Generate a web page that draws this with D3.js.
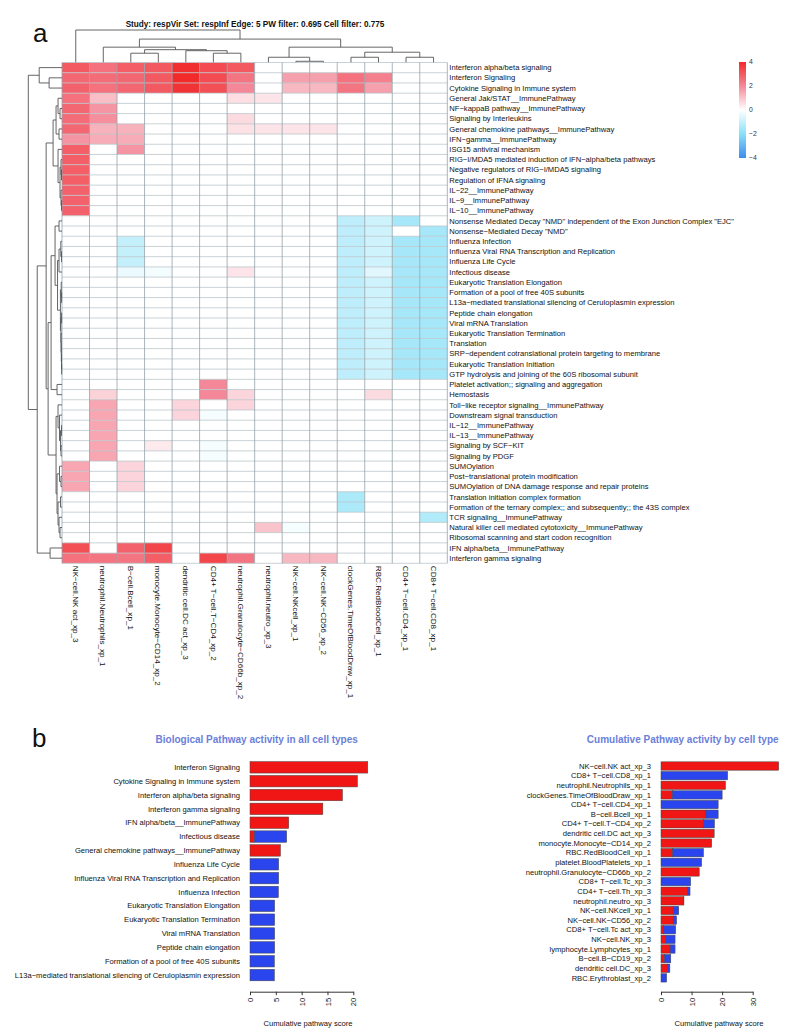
<!DOCTYPE html>
<html><head><meta charset="utf-8">
<script src="https://cdn.jsdelivr.net/npm/d3@7"></script>
<style>
body{margin:0;background:#fff;}
svg{display:block;font-family:"Liberation Sans",Arial,Helvetica,sans-serif;}
</style></head><body>
<svg id="chart" width="797" height="1036"></svg>
<script>
// ---------------- DATA ----------------
const chartTitle = "Study: respVir Set: respInf Edge: 5 PW filter: 0.695 Cell filter: 0.775";
const rowLabels = [
"Interferon alpha/beta signaling","Interferon Signaling","Cytokine Signaling in Immune system",
"General Jak/STAT__ImmunePathway","NF\u2212kappaB pathway__ImmunePathway","Signaling by Interleukins",
"General chemokine pathways__ImmunePathway","IFN\u2212gamma__ImmunePathway","ISG15 antiviral mechanism",
"RIG\u2212I/MDA5 mediated induction of IFN\u2212alpha/beta pathways","Negative regulators of RIG\u2212I/MDA5 signaling",
"Regulation of IFNA signaling","IL\u221222__ImmunePathway","IL\u22129__ImmunePathway","IL\u221210__ImmunePathway",
"Nonsense Mediated Decay \"NMD\" independent of the Exon Junction Complex \"EJC\"","Nonsense\u2212Mediated Decay \"NMD\"",
"Influenza Infection","Influenza Viral RNA Transcription and Replication","Influenza Life Cycle","Infectious disease",
"Eukaryotic Translation Elongation","Formation of a pool of free 40S subunits",
"L13a\u2212mediated translational silencing of Ceruloplasmin expression","Peptide chain elongation",
"Viral mRNA Translation","Eukaryotic Translation Termination","Translation",
"SRP\u2212dependent cotranslational protein targeting to membrane","Eukaryotic Translation Initiation",
"GTP hydrolysis and joining of the 60S ribosomal subunit","Platelet activation;; signaling and aggregation",
"Hemostasis","Toll\u2212like receptor signaling__ImmunePathway","Downstream signal transduction",
"IL\u221212__ImmunePathway","IL\u221213__ImmunePathway","Signaling by SCF\u2212KIT","Signaling by PDGF",
"SUMOylation","Post\u2212translational protein modification","SUMOylation of DNA damage response and repair proteins",
"Translation initiation complex formation","Formation of the ternary complex;; and subsequently;; the 43S complex",
"TCR signaling__ImmunePathway","Natural killer cell mediated cytotoxicity__ImmunePathway",
"Ribosomal scanning and start codon recognition","IFN alpha/beta__ImmunePathway","Interferon gamma signaling"];
const colLabels = [
"NK\u2212cell.NK act_xp_3","neutrophil.Neutrophils_xp_1","B\u2212cell.Bcell_xp_1","monocyte.Monocyte\u2212CD14_xp_2",
"dendritic cell.DC act_xp_3","CD4+ T\u2212cell.T\u2212CD4_xp_2","neutrophil.Granulocyte\u2212CD66b_xp_2",
"neutrophil.neutro_xp_3","NK\u2212cell.NKcell_xp_1","NK\u2212cell.NK\u2212CD56_xp_2","clockGenes.TimeOfBloodDraw_xp_1",
"RBC.RedBloodCell_xp_1","CD4+ T\u2212cell.CD4_xp_1","CD8+ T\u2212cell.CD8_xp_1"];
const heatValues = [
[3.0,2.5,2.9,3.0,3.9,3.3,3.0,0,0,0,0,0,0,0],
[2.7,2.6,2.7,3.0,4.0,3.3,2.4,0,1.6,1.6,2.5,2.2,0,0],
[2.8,2.5,2.7,3.0,3.8,3.2,2.0,0,1.2,1.2,2.4,1.6,0,0],
[2.5,1.1,0,0,0,0,0.55,0.45,0,0,0,0,0,0],
[2.7,1.8,0,0,0,0,0,0,0,0,0,0,0,0],
[2.6,1.9,0,0,0,0,0.6,0,0,0,0,0,0,0],
[2.7,1.3,1.3,0,0,0,0.5,0.45,0.45,0.45,0,0,0,0],
[1.8,1.4,1.4,0,0,0,0,0,0,0,0,0,0,0],
[2.9,0,1.8,0,0,0,0,0,0,0,0,0,0,0],
[2.9,0,0,0,0,0,0,0,0,0,0,0,0,0],
[2.9,0,0,0,0,0,0,0,0,0,0,0,0,0],
[2.9,0,0,0,0,0,0,0,0,0,0,0,0,0],
[2.8,0,0,0,0,0,0,0,0,0,0,0,0,0],
[2.8,0,0,0,0,0,0,0,0,0,0,0,0,0],
[2.8,0,0,0,0,0,0,0,0,0,0,0,0,0],
[0,0,0,0,0,0,0,0,0,0,-1.1,-0.8,-1.5,0],
[0,0,0,0,0,0,0,0,0,0,-1.1,-0.8,0,-1.5],
[0,0,-1.0,0,0,0,0,0,0,0,-1.1,-0.8,-1.5,-1.5],
[0,0,-1.0,0,0,0,0,0,0,0,-1.1,-0.8,-1.5,-1.5],
[0,0,-1.0,0,0,0,0,0,0,0,-1.1,-0.8,-1.5,-1.5],
[0,0,-0.35,-0.2,0,0,0.45,0,0,0,-1.1,-0.5,-1.5,-1.5],
[0,0,0,0,0,0,0,0,0,0,-1.1,-0.8,-1.5,-1.5],
[0,0,0,0,0,0,0,0,0,0,-1.1,-0.8,-1.5,-1.5],
[0,0,0,0,0,0,0,0,0,0,-1.1,-0.8,-1.5,-1.5],
[0,0,0,0,0,0,0,0,0,0,-1.1,-0.8,-1.5,-1.5],
[0,0,0,0,0,0,0,0,0,0,-1.1,-0.8,-1.5,-1.5],
[0,0,0,0,0,0,0,0,0,0,-1.1,-0.8,-1.5,-1.5],
[0,0,0,0,0,0,0,0,0,0,-1.1,-0.8,-1.5,-1.5],
[0,0,0,0,0,0,0,0,0,0,-1.1,-0.8,-1.5,-1.5],
[0,0,0,0,0,0,0,0,0,0,-1.1,-0.8,-1.5,-1.5],
[0,0,0,0,0,0,0,0,0,0,-1.1,-0.8,-1.5,-1.5],
[0,0,0,0,0,2.0,0,0,0,0,0,0,0,0],
[0,0.75,0,0,0,2.0,0.7,0,0,0,0,0.6,0,0],
[0,1.5,0,0,0.7,0,0.7,0,0,0,0,0,0,0],
[0,1.5,0,0,0.7,-0.15,0,0,0,0,0,0,0,0],
[0,1.5,0,0,0,0,0,0,0,0,0,0,0,0],
[0,1.5,0,0,0,0,0,0,0,0,0,0,0,0],
[0,1.5,0,0.35,0,-0.15,0,0,0,0,0,0,0,0],
[0,1.5,0,0,0,-0.15,0,0,0,0,0,0,0,0],
[1.5,0,0.7,0,0,0,0,0,0,0,0,0,0,0],
[1.5,0,0.7,0,0,0,0,0,0,0,0,0,0,0],
[1.5,0,0.7,0,0,0,0,0,0,0,0,0,0,0],
[0,0,0,0,0,0,0,0,0,0,-1.4,0,0,0],
[0,0,0,0,0,0,0,0,0,0,-1.4,0,0,0],
[0,0,0,0,0,0,0,0,0,0,0,0,0,-1.3],
[0,0,0,0,0,0,0,1.0,-0.15,0,0,0,0,0],
[0,0,0,0,0,0,0,0,0,0,0,0,0,0],
[3.2,0,2.8,3.4,0,0,0,0,0,0,0,0,0,0],
[2.5,2.4,2.4,2.9,0,3.4,2.4,0,1.2,1.2,0,0,0,0]];
// dendrograms: [mergeHeight, left, right]; leaves are column / row indices
const colTree = [32, 0, [23, [15, 1, [12.5, [9, 2, 3], [11.5, 4, [9, 5, 6]]]],
                               [15, [5, 7, [1, 8, 9]], [10, [5, 10, 11], [5, 12, 13]]]]];
const rowTree = [34,
  [23, 0, [13, 1, 2]],
  [25,
    [16,
      [9, [6, [4, 3, [2, 4, 5]], [3, 6, 7]],
          [4, 8, [2, [1, 9, [0.5, 10, 11]], [1, 12, [0.5, 13, 14]]]]],
      [14,
        [11, [7, [3, 15, 16], [4.5, [3, [1.2, 17, [0.5, 18, 19]], 20],
                 [1.6, [0.8, 21, [0.4, 22, 23]], [1.1, [0.4, 24, 25], [0.9, 26, [0.7, 27, [0.5, 28, [0.3, 29, 30]]]]]]]],
             [5, 31, 32]],
        [6, [4, 33, [2.5, 34, [1.5, [0.5, 35, 36], [1, 37, 38]]]],
            [5, [2.5, 39, [1, 40, 41]], [4, [1.5, 42, 43], [3, 44, [2, 45, 46]]]]]]],
    [12, 47, 48]]];
const legendTicks = [4, 2, 0, -2, -4];
const colorDomain = [-4, -2, 0, 2, 4];

const pathwayNames = ["Interferon Signaling","Cytokine Signaling in Immune system","Interferon alpha/beta signaling",
"Interferon gamma signaling","IFN alpha/beta__ImmunePathway","Infectious disease","General chemokine pathways__ImmunePathway",
"Influenza Life Cycle","Influenza Viral RNA Transcription and Replication","Influenza Infection",
"Eukaryotic Translation Elongation","Eukaryotic Translation Termination","Viral mRNA Translation",
"Peptide chain elongation","Formation of a pool of free 40S subunits",
"L13a\u2212mediated translational silencing of Ceruloplasmin expression"];
const pathwayUp   = [22.8,20.8,17.9,14.1,7.5,0.85,5.9,0,0,0,0,0,0,0,0,0];
const pathwayDown = [0,0,0,0,0,6.25,0,5.55,5.55,5.5,4.77,4.77,4.77,4.77,4.72,4.72];
const pathwayTicks = [0,5,10,15,20];

const cellNames = ["NK\u2212cell.NK act_xp_3","CD8+ T\u2212cell.CD8_xp_1","neutrophil.Neutrophils_xp_1",
"clockGenes.TimeOfBloodDraw_xp_1","CD4+ T\u2212cell.CD4_xp_1","B\u2212cell.Bcell_xp_1","CD4+ T\u2212cell.T\u2212CD4_xp_2",
"dendritic cell.DC act_xp_3","monocyte.Monocyte\u2212CD14_xp_2","RBC.RedBloodCell_xp_1","platelet.BloodPlatelets_xp_1",
"neutrophil.Granulocyte\u2212CD66b_xp_2","CD8+ T\u2212cell.Tc_xp_3","CD4+ T\u2212cell.Th_xp_3","neutrophil.neutro_xp_3",
"NK\u2212cell.NKcell_xp_1","NK\u2212cell.NK\u2212CD56_xp_2","CD8+ T\u2212cell.Tc act_xp_3","NK\u2212cell.NK_xp_3",
"lymphocyte.Lymphcytes_xp_1","B\u2212cell.B\u2212CD19_xp_2","dendritic cell.DC_xp_3","RBC.Erythroblast_xp_2"];
const cellUp   = [38.5,0,21.1,3.7,0,14.7,14.0,17.4,16.6,3.8,0,12.5,0,8.6,7.3,4.0,4.0,0.9,1.5,3.0,1.1,2.2,0];
const cellDown = [0,21.8,0,16.3,18.7,4.0,3.5,0,0,10.1,13.3,0,9.7,0.9,0.2,1.8,1.1,3.9,3.1,1.6,2.1,0.7,1.85];
const cellTicks = [0,10,20,30];

// ---------------- DRAW ----------------
const svg = d3.select("#chart");
const FS = 7.6, FSC = 8.1, TXT = "#111";
const color = d3.scaleLinear().domain(colorDomain)
  .range(["#3d8cf0","#88e0f7","#ffffff","#f48898","#f22a2a"]).clamp(true);

const xCol = d3.scaleBand().domain(d3.range(colLabels.length)).range([62, 447.3]);
const yRow = d3.scaleBand().domain(d3.range(rowLabels.length)).range([62.5, 563.3]);
const cw = xCol.bandwidth(), rh = yRow.bandwidth();

// panel letters & title
svg.append("text").attr("x", 33).attr("y", 42).attr("font-size", 26).attr("fill", TXT).text("a");
svg.append("text").attr("x", 32).attr("y", 747).attr("font-size", 26).attr("fill", TXT).text("b");
svg.append("text").attr("x", 255).attr("y", 27.3).attr("text-anchor", "middle")
  .attr("font-size", 8.2).attr("font-weight", "bold").attr("fill", TXT).text(chartTitle);

// cells
const cells = heatValues.flatMap((row, i) => row.map((v, j) => ({i, j, v})));
svg.append("g").selectAll("rect").data(cells).join("rect")
  .attr("x", d => xCol(d.j)).attr("y", d => yRow(d.i))
  .attr("width", cw).attr("height", rh).attr("fill", d => color(d.v));

// grid
const grid = svg.append("g");
d3.range(rowLabels.length + 1).forEach(i => {
  const y = yRow.range()[0] + i * rh;
  grid.append("line").attr("x1", xCol.range()[0]).attr("x2", xCol.range()[1])
    .attr("y1", y).attr("y2", y).attr("stroke", "#bcc7cb").attr("stroke-width", 0.8);
});
d3.range(colLabels.length + 1).forEach(j => {
  const x = xCol.range()[0] + j * cw;
  grid.append("line").attr("y1", yRow.range()[0]).attr("y2", yRow.range()[1])
    .attr("x1", x).attr("x2", x).attr("stroke", "#94a3a9").attr("stroke-width", 0.8);
});

// row labels
svg.append("g").selectAll("text").data(rowLabels).join("text")
  .attr("x", xCol.range()[1] + 2).attr("y", (d, i) => yRow(i) + rh / 2).attr("dy", "0.35em")
  .attr("font-size", FS).attr("fill", TXT).text(d => d);
// column labels
svg.append("g").selectAll("text").data(colLabels).join("text")
  .attr("transform", (d, j) => `translate(${xCol(j) + cw / 2},${yRow.range()[1] + 2.5}) rotate(90)`)
  .attr("dy", "0.35em").attr("font-size", FSC).attr("fill", TXT).text(d => d);

// dendrograms
function dendro(tree, posOf, hScale, horizontal) {
  const segs = [];
  function walk(n) {
    if (typeof n === "number") return {p: posOf(n), h: 0};
    const a = walk(n[1]), b = walk(n[2]);
    segs.push({a, b, h: n[0]});
    return {p: (a.p + b.p) / 2, h: n[0]};
  }
  walk(tree);
  return segs.map(s => horizontal
    ? `M${hScale(s.a.h)},${s.a.p}H${hScale(s.h)}V${s.b.p}H${hScale(s.b.h)}`
    : `M${s.a.p},${hScale(s.a.h)}V${hScale(s.h)}H${s.b.p}V${hScale(s.b.h)}`);
}
const colH = d3.scaleLinear().domain([0, 32]).range([62.3, 30]);
const rowH = d3.scaleLinear().domain([0, 34]).range([62, 28.3]);
svg.append("g").selectAll("path").data(dendro(colTree, j => xCol(j) + cw / 2, colH, false)).join("path")
  .attr("d", d => d).attr("fill", "none").attr("stroke", "#555").attr("stroke-width", 0.9);
svg.append("g").selectAll("path").data(dendro(rowTree, i => yRow(i) + rh / 2, rowH, true)).join("path")
  .attr("d", d => d).attr("fill", "none").attr("stroke", "#555").attr("stroke-width", 0.9);

// legend (stops in increasing offset order: top = +4)
const lgY = d3.scaleLinear().domain([4, -4]).range([62, 158]);
const grad = svg.append("defs").append("linearGradient").attr("id", "lg")
  .attr("x1", 0).attr("x2", 0).attr("y1", 0).attr("y2", 1);
d3.range(0, 17).map(k => 4 - k * 0.5).forEach(v => grad.append("stop")
  .attr("offset", (4 - v) / 8).attr("stop-color", color(v)));
svg.append("rect").attr("x", 739).attr("y", lgY(4)).attr("width", 7)
  .attr("height", lgY(-4) - lgY(4)).attr("fill", "url(#lg)");
svg.append("g").selectAll("text").data(legendTicks).join("text")
  .attr("x", 749).attr("y", d => lgY(d)).attr("dy", "0.35em").attr("font-size", 6.8)
  .attr("fill", "#333").text(d => d < 0 ? "\u2212" + Math.abs(d) : d);

// bar charts
function barChart(o) {
  const g = svg.append("g");
  const y = d3.scaleBand().domain(o.names).range(o.yr).paddingInner(o.pad).paddingOuter(o.pad / 2);
  const x = d3.scaleLinear().domain([0, o.ticks[o.ticks.length - 1]]).range(o.xr);
  g.append("text").attr("x", o.titleX).attr("y", 742.5).attr("text-anchor", "middle")
    .attr("font-size", 10).attr("font-weight", "bold").attr("fill", "#6b80da").text(o.title);
  const data = o.names.map((n, i) => ({n, up: o.up[i], down: o.down[i]}));
  g.selectAll(".u").data(data.filter(d => d.up > 0)).join("rect")
    .attr("x", x(0)).attr("y", d => y(d.n)).attr("width", d => x(d.up) - x(0)).attr("height", y.bandwidth())
    .attr("fill", "#f01616").attr("stroke", "#444").attr("stroke-width", 0.5);
  g.selectAll(".d").data(data.filter(d => d.down > 0)).join("rect")
    .attr("x", d => x(d.up)).attr("y", d => y(d.n)).attr("width", d => x(d.up + d.down) - x(d.up))
    .attr("height", y.bandwidth())
    .attr("fill", "#2b45ee").attr("stroke", "#444").attr("stroke-width", 0.5);
  g.selectAll(".l").data(data).join("text")
    .attr("x", o.xr[0] - 10).attr("y", d => y(d.n) + y.bandwidth() / 2).attr("dy", "0.35em")
    .attr("text-anchor", "end").attr("font-size", FS).attr("fill", TXT).text(d => d.n);
  const ax = g.append("g").attr("transform", "translate(0,991.7)")
    .call(d3.axisBottom(x).tickValues(o.ticks).tickSizeInner(3.5).tickSizeOuter(0).tickFormat(d3.format("d")));
  ax.select(".domain").attr("stroke", "#333");
  ax.selectAll(".tick line").attr("stroke", "#333");
  ax.selectAll(".tick text").attr("transform", "rotate(-90)").attr("x", -6).attr("y", 0)
    .attr("dy", "0.35em").attr("text-anchor", "end").attr("font-size", FS).attr("fill", TXT)
    .attr("font-family", "Liberation Sans, Arial, sans-serif");
  g.append("text").attr("x", o.axisTitleX).attr("y", 1025.5).attr("text-anchor", "middle")
    .attr("font-size", FS).attr("fill", TXT).text("Cumulative pathway score");
}
barChart({names: pathwayNames, up: pathwayUp, down: pathwayDown, ticks: pathwayTicks,
  yr: [760.4, 982], xr: [250, 353.3], pad: 0.17, title: "Biological Pathway activity in all cell types",
  titleX: 256.7, axisTitleX: 308});
barChart({names: cellNames, up: cellUp, down: cellDown, ticks: cellTicks,
  yr: [761.2, 982.7], xr: [661, 752.7], pad: 0.13, title: "Cumulative Pathway activity by cell type",
  titleX: 682.7, axisTitleX: 719});
</script></body></html>
